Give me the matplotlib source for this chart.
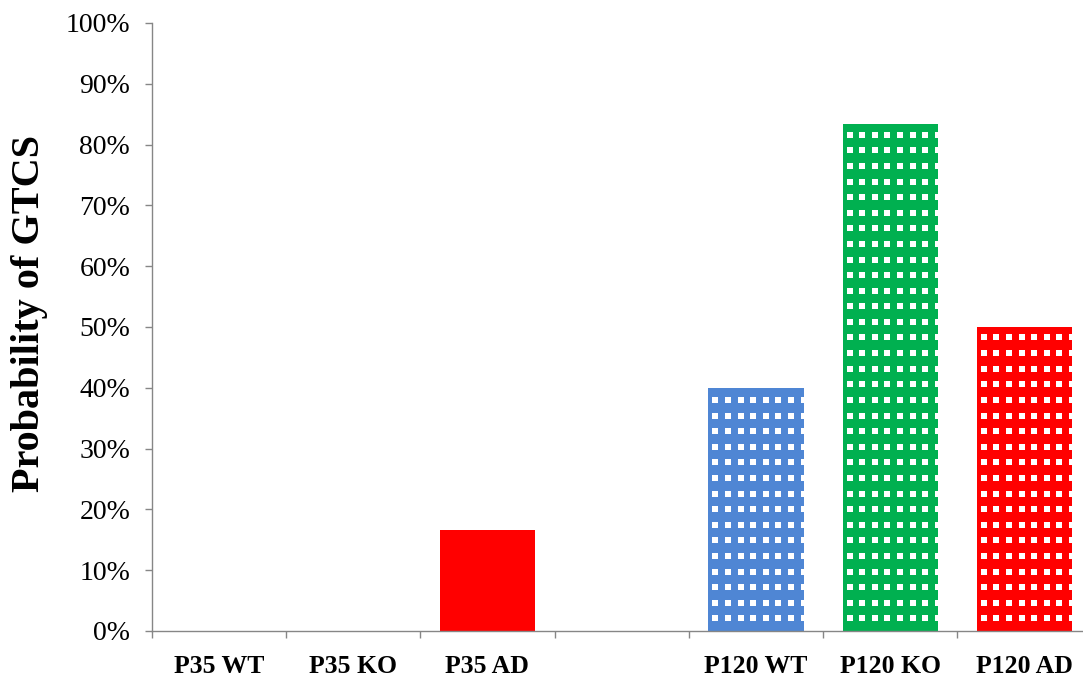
import matplotlib
matplotlib.use("Agg")
import matplotlib.pyplot as plt
from matplotlib.ticker import FixedLocator, FuncFormatter
import numpy as np

# Data
categories = ["P35 WT", "P35 KO", "P35 AD", "", "P120 WT", "P120 KO", "P120 AD"]
gtcs_pct = [0.0, 0.0, 16.67, np.nan, 40.0, 83.33, 50.0]
bar_colors = ["#4F86D4", "#00B050", "#FF0000", "none", "#4F86D4", "#00B050", "#FF0000"]
dotted = [False, False, False, False, True, True, True]
y_ticks = list(range(0, 101, 10))

SERIF = ["Liberation Serif", "DejaVu Serif"]
AXIS_GREY = "#868686"

W, H = 1083, 683
fig = plt.figure(figsize=(W / 100, H / 100), dpi=100)
ax_left, ax_bottom, ax_w, ax_h = 151.7, 52, 940, 608
ax = fig.add_axes([ax_left / W, ax_bottom / H, ax_w / W, ax_h / H])

x = np.arange(len(categories))
bar_width = 0.71
bars = ax.bar(x, np.nan_to_num(gtcs_pct), width=bar_width,
              color=bar_colors, edgecolor="none", zorder=2)

ax.set_xlim(-0.5, len(categories) - 0.5)
ax.set_ylim(0, 100)

# White square dot pattern on the P120 bars (pixel spacing converted to data units)
px_per_x = ax_w / len(categories)
px_per_y = ax_h / 100.0
dx, dy = 12.6 / px_per_x, 15.6 / px_per_y
off_x, off_y = 7.0 / px_per_x, 12.7 / px_per_y
for rect, use_dots in zip(bars, dotted):
    if not use_dots:
        continue
    x0, w, hgt = rect.get_x(), rect.get_width(), rect.get_height()
    xs = np.arange(x0 + off_x - dx, x0 + w + dx, dx)
    ys = np.arange(off_y, hgt + dy, dy)
    gx, gy = np.meshgrid(xs, ys)
    sc = ax.scatter(gx.ravel(), gy.ravel(), marker="s", s=15, c="white",
                    linewidths=0, zorder=3)
    sc.set_clip_path(rect)

# Axes styling
for side in ("top", "right"):
    ax.spines[side].set_visible(False)
for side in ("left", "bottom"):
    ax.spines[side].set_color(AXIS_GREY)
    ax.spines[side].set_linewidth(1.0)

ax.yaxis.set_major_locator(FixedLocator(y_ticks))
ax.yaxis.set_major_formatter(FuncFormatter(lambda v, _: f"{int(v)}%"))
ax.tick_params(axis="y", direction="out", length=5, width=1.0, color=AXIS_GREY,
               pad=10.5, labelsize=20)
for lbl in ax.get_yticklabels():
    lbl.set_fontfamily(SERIF)

# Category boundaries as major ticks, names centred as minor tick labels
ax.set_xticks(np.arange(-0.5, len(categories), 1.0))
ax.set_xticklabels([])
ax.tick_params(axis="x", which="major", direction="out", length=5, width=1.0,
               color=AXIS_GREY)
ax.set_xticks(x, minor=True)
ax.set_xticklabels(categories, minor=True, fontsize=18.5, fontweight="bold",
                   fontfamily=SERIF)
ax.tick_params(axis="x", which="minor", length=0, pad=17)

fig.text(30 / W, 1 - 313 / H, "Probability of GTCS", rotation=90,
         ha="center", va="center", fontsize=29, fontweight="bold",
         fontfamily=SERIF)

fig.savefig("out.png", dpi=100, facecolor="white")
